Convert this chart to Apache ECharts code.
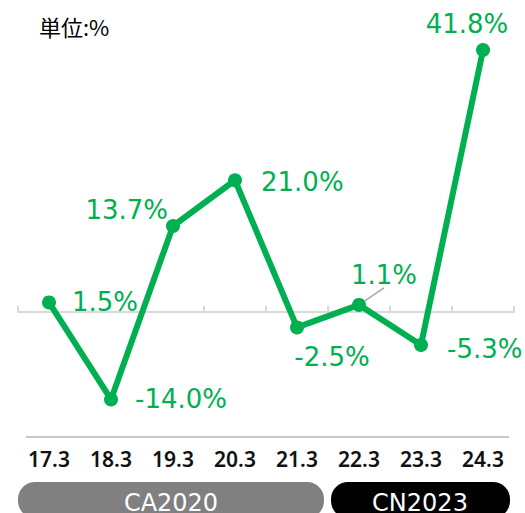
<!DOCTYPE html>
<html>
<head>
<meta charset="utf-8">
<script src="https://cdn.jsdelivr.net/npm/echarts@6/dist/echarts.min.js"></script>
<style>
  html, body { margin: 0; padding: 0; background: #fff; }
  #chart { width: 525px; height: 513px; }
</style>
</head>
<body>
<div id="chart"></div>
<script>
const chart = echarts.init(document.getElementById('chart'), null, { renderer: 'svg' });

// data
const categories = ['17.3', '18.3', '19.3', '20.3', '21.3', '22.3', '23.3', '24.3'];
const growth = [1.5, -14.0, 13.7, 21.0, -2.5, 1.1, -5.3, 41.8];
const periods = ['CA2020', 'CN2023'];

const green = '#00b050';

// where each value label sits
const labelPos = ['right', 'right', 'left', 'right', 'bottom', 'top', 'right', 'top'];
const labelDist = [16, 17, 0, 19, 10, 5, 19, 6];
const labelShift = [[0, 0], [0, 0], [2, -16], [0, 2], [35, 0], [25, -5], [0, 4], [-16, 0]];

const seriesData = growth.map((v, i) => ({
    value: v,
    label: { position: labelPos[i], distance: labelDist[i] },
    labelLine: { show: i === 5 }
}));

chart.setOption({
    animation: false,
    title: {
        text: '単位:%',
        left: 34,
        top: 10,
        textStyle: {
            fontFamily: 'Noto Sans CJK JP',
            fontSize: 22,
            fontWeight: 'normal',
            color: '#000'
        }
    },
    grid: {
        left: 18,
        right: 11,
        top: 30,
        bottom: 76
    },
    xAxis: [{
        type: 'category',
        data: categories,
        position: 'bottom',
        axisLine: { onZero: true, lineStyle: { color: '#d9d9d9', width: 2 } },
        axisTick: { show: true, inside: true, length: 6, lineStyle: { color: '#d9d9d9', width: 2 } },
        axisLabel: { show: false }
    }, {
        type: 'category',
        data: categories,
        position: 'bottom',
        axisLine: { show: false, onZero: false },
        axisTick: { show: false },
        axisLabel: {
            margin: 11,
            fontFamily: 'Noto Sans',
            fontWeight: 600,
            fontSize: 21,
            color: '#111'
        }
    }],
    yAxis: {
        type: 'value',
        min: -20,
        max: 45,
        show: false
    },
    series: [{
        type: 'line',
        xAxisIndex: 0,
        data: seriesData,
        symbol: 'circle',
        symbolSize: 14,
        itemStyle: { color: green },
        lineStyle: { color: green, width: 6 },
        label: {
            show: true,
            color: green,
            fontFamily: 'DejaVu Sans',
            fontSize: 26,
            formatter: p => p.value.toFixed(1) + '%'
        },
        labelLine: {
            show: false,
            lineStyle: { color: '#a6a6a6', width: 1.5 }
        },
        labelLayout: function (p) {
            const s = labelShift[p.dataIndex];
            return { dx: s[0], dy: s[1] };
        }
    }],
    graphic: [{
        type: 'line',
        shape: { x1: 26, y1: 437, x2: 509, y2: 437 },
        style: { stroke: '#c8c8c8', lineWidth: 2 }
    }, {
        type: 'group',
        children: [{
            type: 'rect',
            shape: { x: 18, y: 482, width: 306, height: 36, r: 17 },
            style: { fill: '#808080' }
        }, {
            type: 'text',
            x: 171,
            y: 503,
            style: {
                text: periods[0],
                fill: '#fff',
                font: '24px DejaVu Sans',
                align: 'center',
                verticalAlign: 'middle'
            }
        }, {
            type: 'rect',
            shape: { x: 331, y: 482, width: 179, height: 36, r: 17 },
            style: { fill: '#000' }
        }, {
            type: 'text',
            x: 420,
            y: 503,
            style: {
                text: periods[1],
                fill: '#fff',
                font: '24px DejaVu Sans',
                align: 'center',
                verticalAlign: 'middle'
            }
        }]
    }]
});
</script>
</body>
</html>
